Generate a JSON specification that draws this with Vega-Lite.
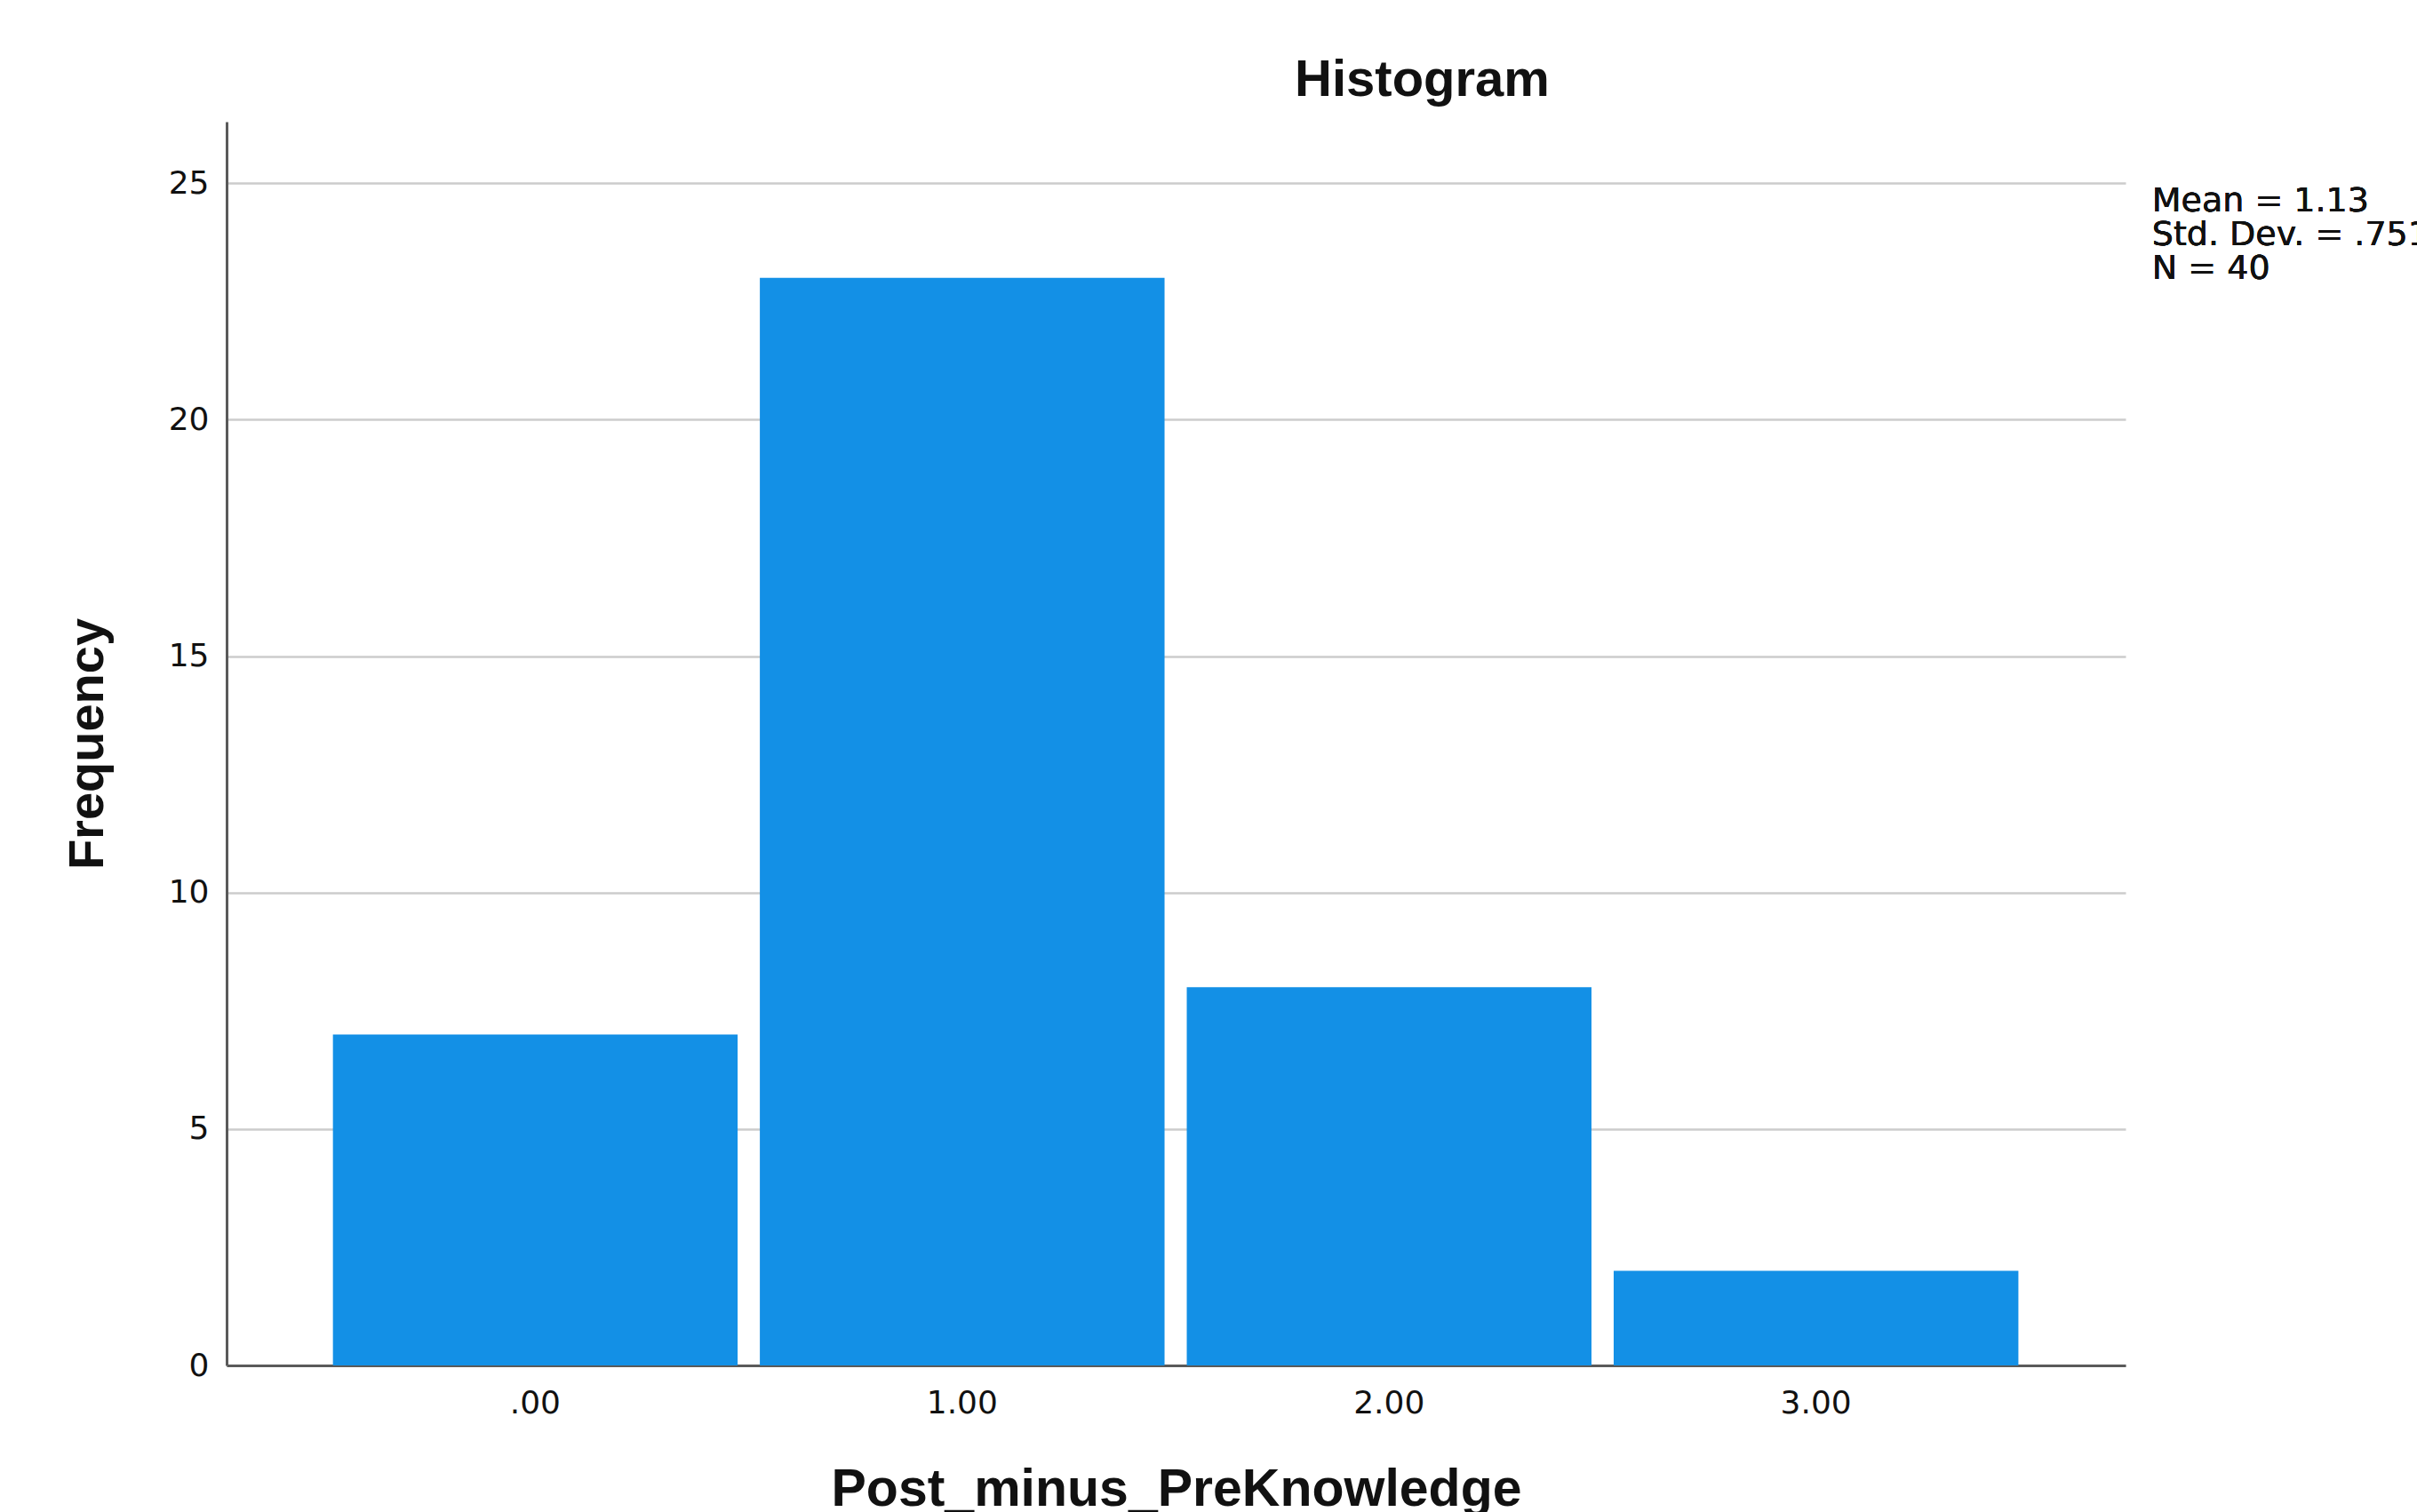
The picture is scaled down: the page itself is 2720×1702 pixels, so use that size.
{
  "$schema": "https://vega.github.io/schema/vega-lite/v6.json",
  "description": "SPSS style histogram of Post_minus_PreKnowledge",
  "width": 2137,
  "height": 1400,
  "autosize": {"type": "none"},
  "padding": {"left": 255, "top": 137, "right": 328, "bottom": 165},
  "background": "white",
  "config": {"view": {"stroke": null}},
  "title": {
    "text": "Histogram",
    "font": "Liberation Sans",
    "fontSize": 58,
    "fontWeight": "bold",
    "color": "#111111",
    "anchor": "middle",
    "frame": "group",
    "dx": 277,
    "offset": -29,
    "baseline": "alphabetic"
  },
  "data": {
    "values": [
      {"bin_start": -0.5, "bin_end": 0.5, "frequency": 7},
      {"bin_start": 0.5, "bin_end": 1.5, "frequency": 23},
      {"bin_start": 1.5, "bin_end": 2.5, "frequency": 8},
      {"bin_start": 2.5, "bin_end": 3.5, "frequency": 2}
    ]
  },
  "layer": [
    {
      "mark": {"type": "bar", "color": "#1390e6", "binSpacing": 25},
      "encoding": {
        "x": {
          "field": "bin_start",
          "type": "quantitative",
          "bin": "binned",
          "title": "Post_minus_PreKnowledge",
          "scale": {"domain": [-0.722, 3.726], "nice": false, "zero": false},
          "axis": {
            "values": [0, 1, 2, 3],
            "labelExpr": "datum.value == 0 ? '.00' : format(datum.value, '.2f')",
            "grid": false,
            "ticks": false,
            "domainColor": "#5a5a5a",
            "domainWidth": 3,
            "labelFont": "DejaVu Sans",
            "labelFontSize": 36,
            "labelColor": "#111111",
            "labelPadding": 25,
            "titleFont": "Liberation Sans",
            "titleFontSize": 59,
            "titleFontWeight": "bold",
            "titleColor": "#111111",
            "titlePadding": 50
          }
        },
        "x2": {"field": "bin_end"},
        "y": {
          "field": "frequency",
          "type": "quantitative",
          "title": "Frequency",
          "scale": {"domain": [0, 26.3], "nice": false},
          "axis": {
            "values": [0, 5, 10, 15, 20, 25],
            "grid": true,
            "gridColor": "#cccccc",
            "gridWidth": 2.5,
            "ticks": false,
            "domainColor": "#5a5a5a",
            "domainWidth": 3,
            "labelFont": "DejaVu Sans",
            "labelFontSize": 36,
            "labelColor": "#111111",
            "labelPadding": 20,
            "titleFont": "Liberation Sans",
            "titleFontSize": 56,
            "titleFontWeight": "bold",
            "titleColor": "#111111",
            "titlePadding": 62
          }
        }
      }
    },
    {
      "mark": {
        "type": "text",
        "font": "DejaVu Sans",
        "fontSize": 38,
        "color": "#111111",
        "align": "left",
        "baseline": "top",
        "lineHeight": 38,
        "dy": 2
      },
      "encoding": {
        "x": {"datum": 3.788},
        "y": {"datum": 25},
        "text": {"value": ["Mean = 1.13", "Std. Dev. = .751", "N = 40"]}
      }
    }
  ]
}
